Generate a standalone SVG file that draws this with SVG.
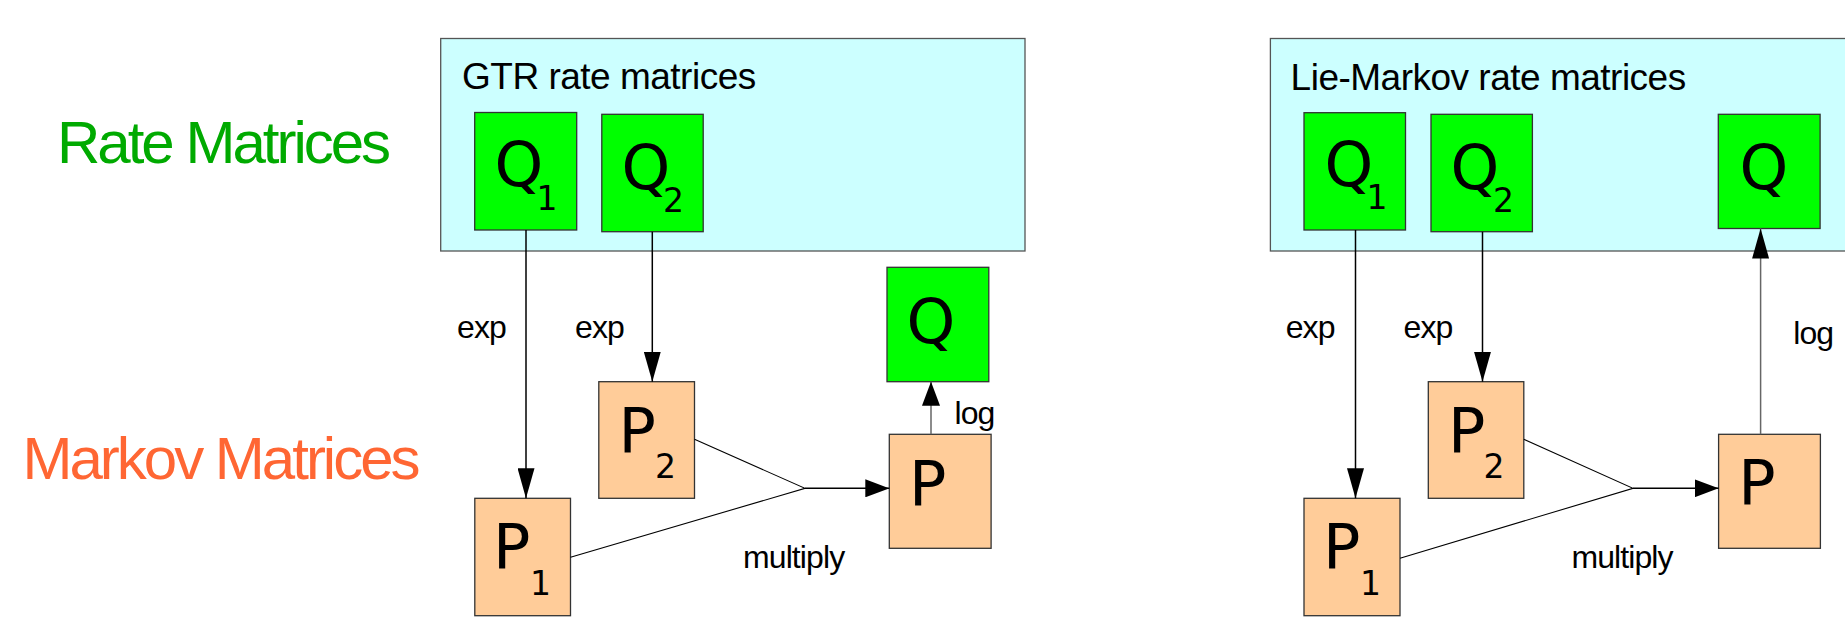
<svg xmlns="http://www.w3.org/2000/svg" width="1845" height="622" viewBox="0 0 1845 622">
  <style>
    .panel { fill: #ccffff; stroke: #555555; stroke-width: 1.3; }
    .rate { fill: #00ff00; stroke: #333333; stroke-width: 1.3; }
    .markov { fill: #ffcc99; stroke: #333333; stroke-width: 1.3; }
    .sym { font-family: "DejaVu Sans", sans-serif; font-size: 62px; fill: #000000; }
    .sub { font-size: 33px; }
    .title { font-family: "Liberation Sans", Arial, sans-serif; font-size: 37px; letter-spacing: -0.5px; fill: #000000; }
    .label { font-family: "Liberation Sans", Arial, sans-serif; font-size: 32px; letter-spacing: -0.9px; fill: #000000; }
    .row { font-family: "Liberation Sans", Arial, sans-serif; font-size: 60px; letter-spacing: -3px; }
    .edge { fill: none; stroke: #000000; stroke-width: 1.5; }
    .join { fill: none; stroke: #000000; stroke-width: 1.1; }
    .logline { fill: none; stroke: #666666; stroke-width: 1.5; }
  </style>
  <defs>
    <marker id="headLong" markerUnits="userSpaceOnUse" viewBox="0 0 30 17" markerWidth="30" markerHeight="17" refX="30" refY="8.5" orient="auto">
      <path d="M0,0 L30,8.5 L0,17 z" fill="#000000"/>
    </marker>
    <marker id="headShort" markerUnits="userSpaceOnUse" viewBox="0 0 24 18" markerWidth="24" markerHeight="18" refX="24" refY="9" orient="auto">
      <path d="M0,0 L24,9 L0,18 z" fill="#000000"/>
    </marker>
  </defs>

  <!-- row headings -->
  <g id="heading-rate">
    <text class="row" x="57" y="162.5" fill="#00aa00">Rate Matrices</text>
  </g>
  <g id="heading-markov">
    <text class="row" x="22.5" y="479" fill="#ff6633">Markov Matrices</text>
  </g>

  <!-- left scheme: GTR -->
  <g id="gtr-panel">
    <rect class="panel" x="440.7" y="38.5" width="584.3" height="212.5"/>
    <text class="title" x="462" y="89.3">GTR rate matrices</text>
  </g>
  <g id="gtr-q1">
    <rect class="rate" x="474.7" y="112.5" width="102" height="117.5"/>
    <text class="sym" x="494.5" y="186">Q<tspan class="sub" x="536.5" y="209.5">1</tspan></text>
  </g>
  <g id="gtr-q2">
    <rect class="rate" x="601.8" y="114.3" width="101.4" height="117.4"/>
    <text class="sym" x="621.5" y="189">Q<tspan class="sub" x="663" y="211.7">2</tspan></text>
  </g>
  <g id="gtr-q">
    <rect class="rate" x="887" y="267.3" width="101.8" height="114.4"/>
    <text class="sym" x="906.5" y="342.5">Q</text>
  </g>
  <g id="gtr-p1">
    <rect class="markov" x="474.8" y="498.3" width="95.7" height="117.4"/>
    <text class="sym" x="493" y="568.3">P<tspan class="sub" x="530" y="595">1</tspan></text>
  </g>
  <g id="gtr-p2">
    <rect class="markov" x="598.8" y="381.7" width="95.7" height="116.6"/>
    <text class="sym" x="618.5" y="451.7">P<tspan class="sub" x="655" y="478.3">2</tspan></text>
  </g>
  <g id="gtr-p">
    <rect class="markov" x="889.3" y="434.3" width="101.8" height="114"/>
    <text class="sym" x="909" y="505">P</text>
  </g>

  <!-- right scheme: Lie-Markov -->
  <g id="lm-panel">
    <rect class="panel" x="1270.4" y="38.5" width="600" height="212.5"/>
    <text class="title" x="1290.6" y="90">Lie-Markov rate matrices</text>
  </g>
  <g id="lm-q1">
    <rect class="rate" x="1304" y="112.7" width="101.5" height="117.3"/>
    <text class="sym" x="1324.5" y="186">Q<tspan class="sub" x="1366.5" y="209">1</tspan></text>
  </g>
  <g id="lm-q2">
    <rect class="rate" x="1431" y="114.3" width="101.4" height="117.4"/>
    <text class="sym" x="1450.5" y="189">Q<tspan class="sub" x="1493" y="211.7">2</tspan></text>
  </g>
  <g id="lm-q">
    <rect class="rate" x="1718.3" y="114.3" width="101.8" height="114.2"/>
    <text class="sym" x="1739.5" y="189">Q</text>
  </g>
  <g id="lm-p1">
    <rect class="markov" x="1304" y="498.3" width="96" height="117.4"/>
    <text class="sym" x="1323" y="568.3">P<tspan class="sub" x="1360" y="595">1</tspan></text>
  </g>
  <g id="lm-p2">
    <rect class="markov" x="1428.3" y="381.7" width="95.5" height="116.6"/>
    <text class="sym" x="1448" y="451.7">P<tspan class="sub" x="1483.5" y="478.3">2</tspan></text>
  </g>
  <g id="lm-p">
    <rect class="markov" x="1718.6" y="434.3" width="101.8" height="114"/>
    <text class="sym" x="1738.3" y="504">P</text>
  </g>

  <!-- connectors -->
  <g id="connectors">
    <!-- GTR -->
    <line class="edge" x1="526" y1="230" x2="526" y2="498.3" marker-end="url(#headLong)"/>
    <line class="edge" x1="652.3" y1="231.7" x2="652.3" y2="381.7" marker-end="url(#headLong)"/>
    <polyline class="join" points="694.5,439.3 805,488.3 570.5,557.3"/>
    <line class="edge" x1="805" y1="488.3" x2="889.3" y2="488.3" marker-end="url(#headShort)"/>
    <line class="logline" x1="931" y1="434.3" x2="931" y2="381.7" marker-end="url(#headShort)"/>
    <text class="label" x="457" y="337.5">exp</text>
    <text class="label" x="575" y="337.5">exp</text>
    <text class="label" x="954.5" y="424">log</text>
    <text class="label" x="743" y="568.3">multiply</text>

    <!-- Lie-Markov -->
    <line class="edge" x1="1355.5" y1="230" x2="1355.5" y2="498.3" marker-end="url(#headLong)"/>
    <line class="edge" x1="1482.5" y1="231.7" x2="1482.5" y2="381.7" marker-end="url(#headLong)"/>
    <polyline class="join" points="1523.8,439.3 1633,488.3 1400,558.3"/>
    <line class="edge" x1="1633" y1="488.3" x2="1718.6" y2="488.3" marker-end="url(#headShort)"/>
    <line class="logline" x1="1760.6" y1="434.3" x2="1760.6" y2="228.5" marker-end="url(#headLong)"/>
    <text class="label" x="1285.7" y="337.5">exp</text>
    <text class="label" x="1403.5" y="337.5">exp</text>
    <text class="label" x="1793.2" y="343.5">log</text>
    <text class="label" x="1571.4" y="568.3">multiply</text>
  </g>
</svg>
